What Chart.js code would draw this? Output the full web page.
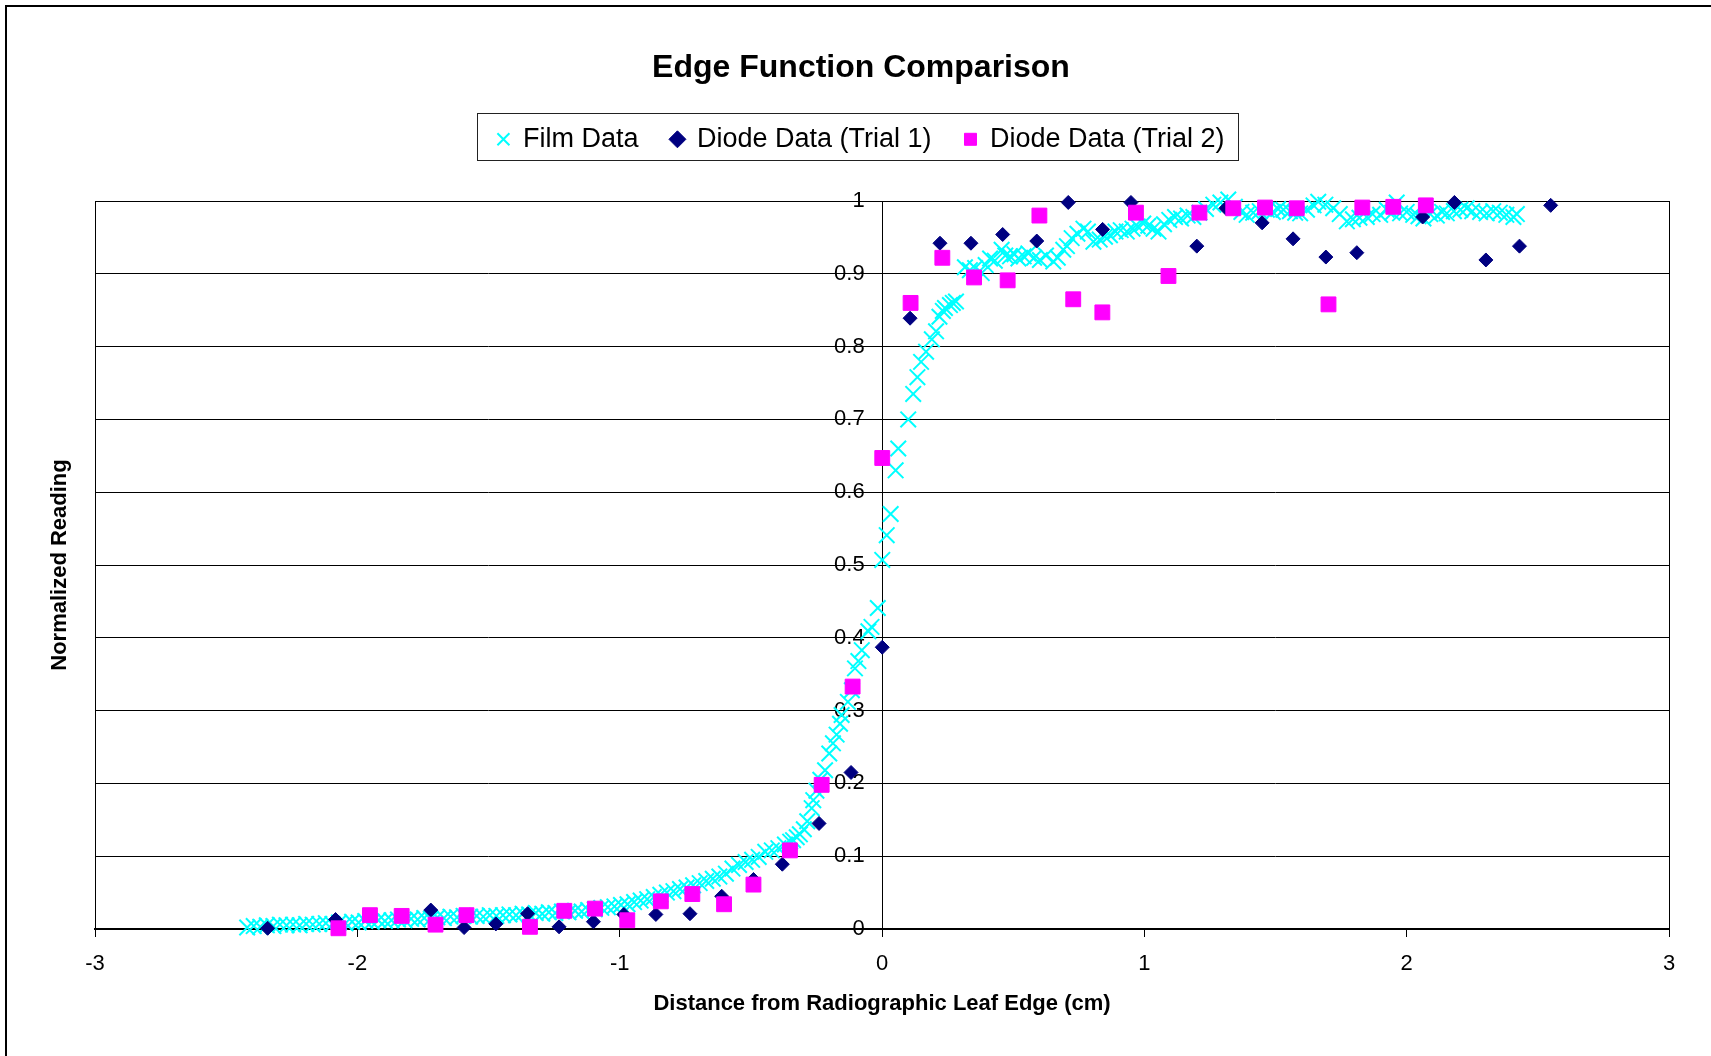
<!DOCTYPE html>
<html>
<head>
<meta charset="utf-8">
<script src="https://cdn.jsdelivr.net/npm/chart.js@4.4.1/dist/chart.umd.min.js"></script>
<style>
  html, body { margin: 0; padding: 0; background: #fff; }
  #wrap { width: 1711px; height: 1056px; }
</style>
</head>
<body>
<div id="wrap"><canvas id="chart" width="1711" height="1056"></canvas></div>
<script>
// film profile (cm, normalized)
const filmX = [
  -2.42, -2.395, -2.37, -2.345, -2.32, -2.295, -2.27, -2.245, -2.22, -2.195,
  -2.17, -2.145, -2.12, -2.095, -2.07, -2.045, -2.02, -1.995, -1.97, -1.945,
  -1.92, -1.895, -1.87, -1.845, -1.82, -1.795, -1.77, -1.745, -1.72, -1.695,
  -1.67, -1.645, -1.62, -1.595, -1.57, -1.545, -1.52, -1.495, -1.47, -1.445,
  -1.42, -1.395, -1.37, -1.345, -1.32, -1.295, -1.27, -1.245, -1.22, -1.195,
  -1.17, -1.145, -1.12, -1.095, -1.07, -1.045, -1.02, -0.995, -0.97, -0.945,
  -0.92, -0.895, -0.87, -0.845, -0.82, -0.795, -0.77, -0.745, -0.72, -0.695,
  -0.67, -0.645, -0.62, -0.595, -0.57, -0.545, -0.52, -0.495, -0.47, -0.445,
  -0.42, -0.395, -0.37,
  -0.35, -0.339, -0.325, -0.313, -0.298, -0.285, -0.268, -0.262, -0.25, -0.235,
  -0.217, -0.201, -0.187, -0.173, -0.16, -0.154, -0.13, -0.115, -0.103, -0.09,
  -0.077, -0.052, -0.04, -0.016, 0.001, 0.018, 0.033, 0.052, 0.062, 0.1,
  0.119, 0.135, 0.149, 0.168, 0.19, 0.206, 0.219, 0.232, 0.24, 0.259,
  0.27, 0.282, 0.316,
  0.335, 0.355, 0.38, 0.395, 0.412, 0.43, 0.456, 0.47, 0.488, 0.505,
  0.52, 0.54, 0.558, 0.58, 0.602, 0.625, 0.653, 0.67, 0.691, 0.705,
  0.723, 0.745, 0.768, 0.785, 0.806, 0.83, 0.85, 0.869, 0.89, 0.91,
  0.933, 0.955, 0.975, 0.996, 1.015, 1.035, 1.054, 1.075, 1.095, 1.117,
  1.14, 1.165, 1.187, 1.21, 1.235, 1.263, 1.29, 1.32, 1.345, 1.37,
  1.39, 1.415, 1.44, 1.467, 1.49, 1.51, 1.53, 1.555, 1.575, 1.594,
  1.62, 1.645, 1.663, 1.69, 1.72, 1.745, 1.772, 1.795, 1.82, 1.848,
  1.87, 1.899, 1.924, 1.945, 1.962, 1.975, 2.0, 2.025, 2.045, 2.064,
  2.09, 2.115, 2.135, 2.153, 2.18, 2.205, 2.229, 2.25, 2.28, 2.305,
  2.33, 2.355, 2.38, 2.407, 2.42
];
const filmY = [
  0.002, 0.004, 0.003, 0.005, 0.004, 0.006, 0.005, 0.006, 0.005, 0.007,
  0.006, 0.007, 0.008, 0.007, 0.009, 0.008, 0.010, 0.009, 0.011, 0.010,
  0.012, 0.011, 0.012, 0.013, 0.012, 0.014, 0.013, 0.015, 0.014, 0.016,
  0.015, 0.017, 0.016, 0.018, 0.017, 0.018, 0.017, 0.019, 0.018, 0.019,
  0.020, 0.019, 0.021, 0.020, 0.022, 0.021, 0.023, 0.022, 0.024, 0.023,
  0.025, 0.024, 0.026, 0.027, 0.029, 0.030, 0.031, 0.033, 0.034, 0.037,
  0.039, 0.041, 0.044, 0.047, 0.050, 0.052, 0.055, 0.057, 0.060, 0.063,
  0.066, 0.069, 0.072, 0.076, 0.083, 0.088, 0.092, 0.095, 0.099, 0.106,
  0.108, 0.111, 0.116,
  0.120, 0.122, 0.126, 0.130, 0.137, 0.148, 0.166, 0.177, 0.190, 0.205,
  0.218, 0.241, 0.255, 0.267, 0.282, 0.294, 0.312, 0.328, 0.358, 0.368,
  0.383, 0.409, 0.415, 0.441, 0.507, 0.541, 0.570, 0.630, 0.660, 0.700,
  0.735, 0.758, 0.779, 0.793, 0.810, 0.821, 0.841, 0.849, 0.853, 0.857,
  0.860, 0.862, 0.909,
  0.905, 0.908, 0.901, 0.912, 0.921, 0.918, 0.933, 0.925, 0.924, 0.927,
  0.921, 0.924, 0.928, 0.922, 0.919, 0.925, 0.917, 0.922, 0.933, 0.938,
  0.949, 0.955, 0.962, 0.958, 0.944, 0.947, 0.951, 0.953, 0.958, 0.960,
  0.958, 0.962, 0.965, 0.969, 0.966, 0.962, 0.958, 0.968, 0.974, 0.978,
  0.976, 0.980, 0.978, 0.984, 0.989, 0.995, 0.998, 1.002, 0.992, 0.985,
  0.981, 0.984, 0.986, 0.988, 0.985, 0.989, 0.988, 0.986, 0.984, 0.983,
  0.988, 0.994, 0.999, 0.995, 0.990, 0.982, 0.972, 0.975, 0.977, 0.978,
  0.982, 0.981, 0.988, 0.984, 0.998, 0.983, 0.985, 0.981, 0.979, 0.976,
  0.982, 0.980, 0.985, 0.983, 0.986, 0.988, 0.990, 0.986, 0.985, 0.983,
  0.986, 0.984, 0.981, 0.978, 0.982
];

// diode, trial 1
const diode1X = [
  -2.342, -2.083, -1.72, -1.593, -1.472, -1.351, -1.231, -1.10, -0.984, -0.862,
  -0.732, -0.611, -0.49, -0.38, -0.24, -0.118, 0.001, 0.107, 0.221, 0.339,
  0.46, 0.59, 0.71, 0.841, 0.949, 1.2, 1.311, 1.449, 1.567, 1.692,
  1.81, 2.061, 2.182, 2.302, 2.43, 2.549
];
const diode1Y = [
  0.001, 0.013, 0.026, 0.002, 0.007, 0.021, 0.003, 0.010, 0.020, 0.020,
  0.021, 0.045, 0.068, 0.089, 0.145, 0.215, 0.387, 0.839, 0.942, 0.942,
  0.954, 0.945, 0.998, 0.961, 0.998, 0.938, 0.990, 0.970, 0.948, 0.923,
  0.929, 0.978, 0.998, 0.919, 0.938, 0.994
];

// diode, trial 2
const diode2X = [
  -2.072, -1.952, -1.831, -1.702, -1.584, -1.342, -1.211, -1.094, -0.971, -0.843,
  -0.723, -0.602, -0.49, -0.351, -0.23, -0.112, 0.001, 0.109, 0.23, 0.351,
  0.479, 0.60, 0.729, 0.84, 0.968, 1.092, 1.21, 1.339, 1.46, 1.581,
  1.702, 1.831, 1.949, 2.073
];
const diode2Y = [
  0.001, 0.019, 0.018, 0.006, 0.019, 0.003, 0.025, 0.028, 0.012, 0.038,
  0.048, 0.034, 0.061, 0.108, 0.198, 0.333, 0.647, 0.860, 0.922, 0.895,
  0.891, 0.980, 0.865, 0.847, 0.984, 0.897, 0.984, 0.990, 0.991, 0.990,
  0.858, 0.991, 0.992, 0.994
];

const xTickLabels = ['-3', '-2', '-1', '0', '1', '2', '3'];
const yTickLabels = ['0', '0.1', '0.2', '0.3', '0.4', '0.5', '0.6', '0.7', '0.8', '0.9', '1'];

const pairs = (xs, ys) => xs.map((x, i) => ({ x: x, y: ys[i] }));

Chart.defaults.font.family = "'Liberation Sans', Arial, sans-serif";
Chart.defaults.color = '#000';

// plot frame, outer border and legend box
const framePlugin = {
  id: 'frame',
  beforeDatasetsDraw(chart) {
    const { ctx, chartArea: a } = chart;
    ctx.save();
    ctx.strokeStyle = '#000';
    ctx.lineWidth = 1;
    ctx.strokeRect(a.left + 0.5, a.top + 0.5, a.right - a.left, a.bottom - a.top);
    ctx.restore();
  },
  afterDraw(chart) {
    const ctx = chart.ctx;
    ctx.save();
    ctx.strokeStyle = '#000';
    ctx.lineWidth = 2;
    ctx.beginPath();
    ctx.moveTo(6, chart.height);
    ctx.lineTo(6, 6);
    ctx.lineTo(chart.width, 6);
    ctx.stroke();

    const hb = chart.legend.legendHitBoxes;
    if (hb && hb.length) {
      const first = hb[0], last = hb[hb.length - 1];
      const left = first.left - 20;
      const right = last.left + last.width + 14;
      const top = first.top - 13;
      ctx.lineWidth = 1;
      ctx.strokeStyle = '#222';
      ctx.strokeRect(Math.round(left) + 0.5, Math.round(top) + 0.5, Math.round(right - left), 47);
    }
    ctx.restore();
  }
};

new Chart(document.getElementById('chart').getContext('2d'), {
  type: 'scatter',
  data: {
    datasets: [
      {
        label: 'Film Data',
        data: pairs(filmX, filmY),
        pointStyle: 'crossRot',
        pointRadius: 11,
        borderColor: '#00FFFF',
        backgroundColor: '#00FFFF',
        borderWidth: 2,
        clip: false,
        order: 3
      }, {
        label: 'Diode Data (Trial 1)',
        data: pairs(diode1X, diode1Y),
        pointStyle: 'rectRot',
        pointRadius: 7,
        borderColor: '#000080',
        backgroundColor: '#000080',
        borderWidth: 1,
        clip: false,
        order: 2
      }, {
        label: 'Diode Data (Trial 2)',
        data: pairs(diode2X, diode2Y),
        pointStyle: 'rect',
        pointRadius: 10.5,
        borderColor: '#FF00FF',
        backgroundColor: '#FF00FF',
        borderWidth: 1,
        clip: false,
        order: 1
      },
    ]
  },
  options: {
    responsive: false,
    animation: false,
    events: [],
    layout: {
      padding: { left: 11, right: 0, top: 10, bottom: 0 }
    },
    plugins: {
      tooltip: { enabled: false },
      title: {
        display: true,
        text: 'Edge Function Comparison',
        font: { size: 32, weight: 'bold' },
        color: '#000',
        padding: { top: 39.3, bottom: 5.1 }
      },
      legend: {
        display: true,
        position: 'top',
        labels: {
          usePointStyle: true,
          boxWidth: 12,
          boxHeight: 12,
          padding: 33,
          font: { size: 27 },
          color: '#000',
          sort: (a, b) => a.datasetIndex - b.datasetIndex
        }
      }
    },
    scales: {
      x: {
        type: 'linear',
        position: 'bottom',
        min: -3,
        max: 3,
        ticks: {
          stepSize: 1,
          padding: 14,
          font: { size: 22 },
          callback: (v, i) => xTickLabels[i]
        },
        grid: {
          display: true,
          drawOnChartArea: true,
          drawTicks: true,
          tickLength: 8,
          color: (c) => (c.tick && c.tick.value === 0 ? '#000' : 'rgba(0,0,0,0)'),
          tickColor: '#000',
          lineWidth: 1
        },
        border: { display: true, color: '#000', width: 2 },
        title: {
          display: true,
          text: 'Distance from Radiographic Leaf Edge (cm)',
          font: { size: 22, weight: 'bold' },
          padding: { top: 0, bottom: 38.5 }
        },
        afterFit(scale) { scale.height = 127; }
      },
      y: {
        type: 'linear',
        position: { x: -0.066 },
        min: 0,
        max: 1,
        ticks: {
          stepSize: 0.1,
          font: { size: 22 },
          callback: (v, i) => yTickLabels[i]
        },
        grid: {
          color: '#000',
          lineWidth: 1,
          drawTicks: false
        },
        border: { display: false }
      },
      yTitle: {
        type: 'linear',
        position: 'left',
        min: 0,
        max: 1,
        ticks: { display: false },
        grid: { display: false },
        border: { display: false },
        title: {
          display: true,
          text: 'Normalized Reading',
          font: { size: 22, weight: 'bold' },
          padding: { top: 35.8, bottom: 0 }
        },
        afterFit(scale) { scale.width = 84; }
      },
      yRight: {
        type: 'linear',
        position: 'right',
        min: 0,
        max: 1,
        ticks: { display: false },
        grid: { display: false },
        border: { display: false },
        afterFit(scale) { scale.width = 42; }
      },
      xTop: {
        type: 'linear',
        position: 'top',
        min: 0,
        max: 1,
        ticks: { display: false },
        grid: { display: false },
        border: { display: false },
        afterFit(scale) { scale.height = 38.2; }
      }
    }
  },
  plugins: [framePlugin]
});
</script>
</body>
</html>
